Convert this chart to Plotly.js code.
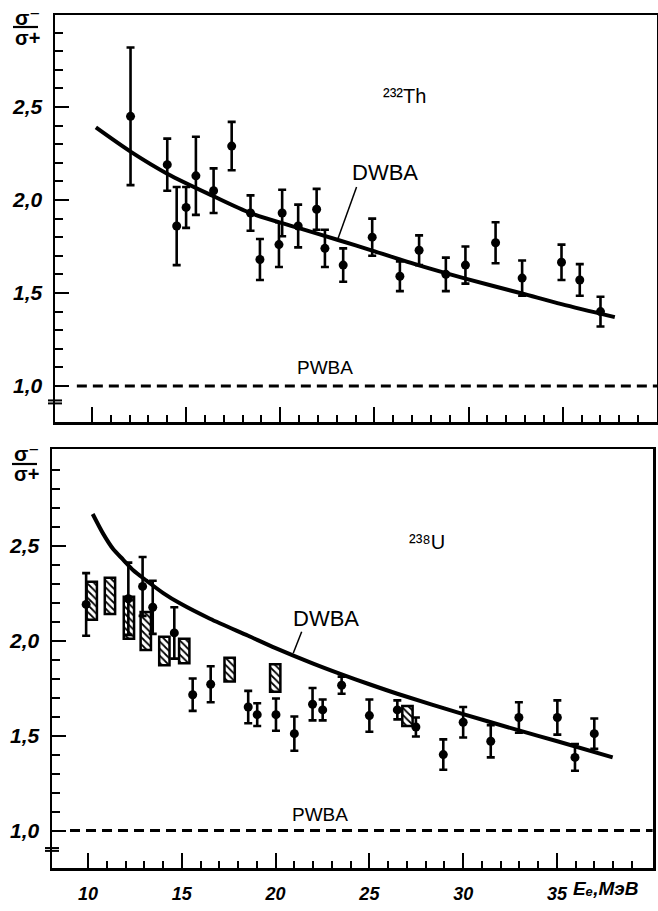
<!DOCTYPE html>
<html>
<head>
<meta charset="utf-8">
<script src="https://cdn.plot.ly/plotly-3.0.1.min.js"></script>
<style>html,body{margin:0;padding:0;background:#fff;}#chart{width:658px;height:911px;}</style>
</head>
<body>
<div id="chart"></div>
<script>
// ---- 232Th data (top panel) ----
var thE   = [12.05, 14.0, 14.5, 15.0, 15.52, 16.46, 17.42, 18.42, 18.92, 19.93, 20.1, 20.95, 21.93, 22.37, 23.34, 24.88, 26.35, 27.37, 28.79, 29.83, 31.43, 32.84, 34.93, 35.9, 37.0];
var thR   = [2.45, 2.19, 1.86, 1.96, 2.13, 2.05, 2.29, 1.93, 1.68, 1.76, 1.93, 1.86, 1.95, 1.74, 1.65, 1.80, 1.59, 1.73, 1.60, 1.65, 1.77, 1.58, 1.665, 1.57, 1.40];
var thErr = [0.37, 0.14, 0.21, 0.11, 0.21, 0.12, 0.13, 0.095, 0.11, 0.12, 0.125, 0.115, 0.11, 0.10, 0.09, 0.10, 0.08, 0.08, 0.09, 0.10, 0.11, 0.095, 0.095, 0.085, 0.08];
var thDwbaE = [10.21, 12.05, 14.02, 16.46, 18.42, 20.95, 23.07, 24.88, 27.37, 29.83, 32.84, 34.93, 37.76];
var thDwbaR = [2.39, 2.26, 2.14, 2.02, 1.93, 1.85, 1.785, 1.728, 1.648, 1.577, 1.497, 1.44, 1.37];
var thPwbaE = [9.2, 40.0];
var thPwbaR = [1.0, 1.0];

// ---- 238U data (bottom panel) ----
var uE   = [9.9, 12.15, 12.91, 13.45, 14.6, 15.58, 16.54, 18.54, 19.02, 20.02, 21.0, 21.97, 22.51, 23.52, 25.0, 26.49, 27.48, 28.94, 30.0, 31.47, 32.97, 35.02, 35.96, 36.99];
var uR   = [2.19, 2.22, 2.285, 2.175, 2.04, 1.715, 1.77, 1.65, 1.61, 1.61, 1.51, 1.665, 1.635, 1.765, 1.605, 1.635, 1.545, 1.40, 1.57, 1.47, 1.595, 1.595, 1.385, 1.51];
var uErr = [0.165, 0.19, 0.155, 0.14, 0.135, 0.085, 0.095, 0.085, 0.06, 0.085, 0.09, 0.085, 0.055, 0.045, 0.085, 0.05, 0.05, 0.08, 0.08, 0.085, 0.08, 0.09, 0.07, 0.08];
var uBoxE    = [10.2, 11.17, 12.18, 13.08, 14.07, 15.13, 17.55, 19.98, 27.03];
var uBoxLow  = [2.11, 2.14, 2.01, 1.95, 1.87, 1.88, 1.785, 1.73, 1.55];
var uBoxHigh = [2.31, 2.33, 2.23, 2.15, 2.02, 2.01, 1.91, 1.875, 1.655];
var uDwbaE = [10.25, 10.82, 11.35, 11.88, 12.41, 13.12, 14.01, 14.9, 16.5, 18.54, 20.0, 21.97, 23.52, 25.0, 26.49, 30.0, 32.97, 35.02, 37.97];
var uDwbaR = [2.666, 2.56, 2.48, 2.425, 2.37, 2.315, 2.25, 2.196, 2.115, 2.025, 1.96, 1.88, 1.822, 1.77, 1.72, 1.613, 1.527, 1.47, 1.385];
var uPwbaE = [9.04, 40.1];
var uPwbaR = [1.0, 1.0];

// ---- ticks ----
var xMajorTicks = [10, 15, 20, 25, 30, 35];
var xMajorText  = ['10', '15', '20', '25', '30', '35'];
var xMinorTicks = [11,12,13,14,16,17,18,19,21,22,23,24,26,27,28,29,31,32,33,34,36,37,38,39];
var yMajorTicks = [1.0, 1.5, 2.0, 2.5];
var yMajorText  = ['1,0', '1,5', '2,0', '2,5'];
var yMinorTicks = [1.1,1.2,1.3,1.4,1.6,1.7,1.8,1.9,2.1,2.2,2.3,2.4,2.6,2.7,2.8,2.9];

var W = 658, H = 911;
function px(p){ return p / W; }
function py(p){ return 1 - p / H; }

var BLK = '#000';
var FAM = 'Liberation Sans, Arial, DejaVu Sans, sans-serif';
var labFont = {family: FAM, size: 21, color: BLK, weight: 'bold', style: 'italic'};
var xLabFont = {family: FAM, size: 18, color: BLK, weight: 'bold', style: 'italic'};

function pointsTrace(x, y, e, xa, ya){
  return {type: 'scatter', mode: 'markers', x: x, y: y, xaxis: xa, yaxis: ya,
    marker: {color: BLK, size: 9},
    error_y: {type: 'data', array: e, visible: true, color: BLK, thickness: 2.6, width: 4},
    showlegend: false, hoverinfo: 'skip'};
}
function lineTrace(x, y, xa, ya, dash, w){
  return {type: 'scatter', mode: 'lines', x: x, y: y, xaxis: xa, yaxis: ya,
    line: {color: BLK, width: w, dash: dash, shape: dash === 'solid' ? 'spline' : 'linear', smoothing: 0.8},
    showlegend: false, hoverinfo: 'skip'};
}

var boxHeights = uBoxHigh.map(function(h, i){ return h - uBoxLow[i]; });

var traces = [
  {type: 'bar', x: uBoxE, y: boxHeights, base: uBoxLow, xaxis: 'x2', yaxis: 'y2', width: 0.55,
   marker: {color: '#fff', line: {color: BLK, width: 2.5},
            pattern: {shape: '\\', fgcolor: BLK, bgcolor: '#fff', size: 5, solidity: 0.35}},
   showlegend: false, hoverinfo: 'skip'},
  lineTrace(thPwbaE, thPwbaR, 'x', 'y', '10px,6px', 3),
  lineTrace(thDwbaE, thDwbaR, 'x', 'y', 'solid', 4),
  pointsTrace(thE, thR, thErr, 'x', 'y'),
  lineTrace(uPwbaE, uPwbaR, 'x2', 'y2', '10px,6px', 3),
  lineTrace(uDwbaE, uDwbaR, 'x2', 'y2', 'solid', 4),
  pointsTrace(uE, uR, uErr, 'x2', 'y2')
];

function xAxis(domain, range, anchor, showLabels){
  return {domain: domain, range: range, anchor: anchor, showgrid: false, zeroline: false,
    showline: true, linecolor: BLK, linewidth: 2.5, mirror: true,
    tickmode: 'array', tickvals: xMajorTicks, ticktext: xMajorText, showticklabels: showLabels,
    ticks: 'inside', ticklen: 15, tickwidth: 2, tickcolor: BLK, tickfont: xLabFont, ticklabelstandoff: 8,
    minor: {tickmode: 'array', tickvals: xMinorTicks, ticks: 'inside', ticklen: 7, tickwidth: 2, tickcolor: BLK, showgrid: false}};
}
function yAxis(domain, range, anchor){
  return {domain: domain, range: range, anchor: anchor, showgrid: false, zeroline: false,
    showline: true, linecolor: BLK, linewidth: 2.5, mirror: true,
    tickmode: 'array', tickvals: yMajorTicks, ticktext: yMajorText,
    ticks: 'inside', ticklen: 14, tickwidth: 2, tickcolor: BLK, tickfont: labFont, ticklabelstandoff: 6,
    minor: {tickmode: 'array', tickvals: yMinorTicks, ticks: 'inside', ticklen: 8, tickwidth: 2, tickcolor: BLK, showgrid: false}};
}
function yRight(range, over, anchor){
  return {overlaying: over, anchor: anchor, side: 'right', range: range, showgrid: false, zeroline: false,
    showline: false, tickmode: 'array', tickvals: yMajorTicks, showticklabels: false,
    ticks: 'inside', ticklen: 10, tickwidth: 2, tickcolor: BLK};
}

var topY = [0.806, 2.995], botY = [0.803, 3.008];
var topX = [8.04, 40.0], botX = [8.08, 40.12];

function ann(text, x, y, xref, yref, font, extra){
  var a = {text: text, x: x, y: y, xref: xref, yref: yref, showarrow: false,
    font: Object.assign({family: FAM, color: BLK}, font), xanchor: 'center', yanchor: 'middle'};
  return Object.assign(a, extra || {});
}
var bi = {weight: 'bold', style: 'italic'};

var layout = {
  width: W, height: H, margin: {l: 0, r: 0, t: 0, b: 0},
  paper_bgcolor: '#fff', plot_bgcolor: '#fff', showlegend: false, barmode: 'overlay',
  xaxis:  xAxis([px(55), px(657)], topX, 'y', false),
  yaxis:  yAxis([py(422), py(15)], topY, 'x'),
  xaxis2: xAxis([px(52), px(653)], botX, 'y2', true),
  yaxis2: yAxis([py(868), py(449)], botY, 'x2'),
  yaxis3: yRight(topY, 'y', 'x'),
  yaxis4: yRight(botY, 'y2', 'x2'),
  annotations: [
    ann('DWBA', 25.55, 2.15, 'x', 'y', {size: 22}),
    ann('PWBA', 22.37, 1.10, 'x', 'y', {size: 19}),
    ann('²³²Th', 25.35, 2.56, 'x', 'y', {size: 20}, {xanchor: 'left'}),
    ann('DWBA', 22.69, 2.118, 'x2', 'y2', {size: 22}),
    ann('PWBA', 22.37, 1.082, 'x2', 'y2', {size: 19}),
    ann('²³⁸U', 27.0, 2.52, 'x2', 'y2', {size: 20}, {xanchor: 'left'}),
    ann('Eₑ,МэВ', px(571), py(888), 'paper', 'paper', Object.assign({size: 19}, bi), {xanchor: 'left'}),
    ann('σ⁻', px(27), py(17), 'paper', 'paper', {size: 21, weight: 'bold'}),
    ann('σ+', px(27), py(38), 'paper', 'paper', {size: 20, weight: 'bold'}),
    ann('σ⁻', px(26), py(453), 'paper', 'paper', {size: 21, weight: 'bold'}),
    ann('σ+', px(26), py(474), 'paper', 'paper', {size: 20, weight: 'bold'})
  ],
  shapes: [
    // fraction bars of the axis titles
    {type: 'line', xref: 'paper', yref: 'paper', x0: px(13), x1: px(38), y0: py(27), y1: py(27), line: {color: BLK, width: 2.2}},
    {type: 'line', xref: 'paper', yref: 'paper', x0: px(12), x1: px(37), y0: py(464), y1: py(464), line: {color: BLK, width: 2.2}},
    // DWBA pointers
    {type: 'line', xref: 'x', yref: 'y', x0: 24.05, y0: 2.07, x1: 23.07, y1: 1.794, line: {color: BLK, width: 1.5}},
    {type: 'line', xref: 'x2', yref: 'y2', x0: 21.39, y0: 2.046, x1: 20.94, y1: 1.933, line: {color: BLK, width: 1.5}},
    // axis break marks
    {type: 'line', xref: 'paper', yref: 'y', x0: px(48), x1: px(62), y0: 0.922, y1: 0.922, line: {color: BLK, width: 2}},
    {type: 'line', xref: 'paper', yref: 'y', x0: px(48), x1: px(62), y0: 0.906, y1: 0.906, line: {color: BLK, width: 2}},
    {type: 'line', xref: 'paper', yref: 'y2', x0: px(45), x1: px(59), y0: 0.908, y1: 0.908, line: {color: BLK, width: 2}},
    {type: 'line', xref: 'paper', yref: 'y2', x0: px(45), x1: px(59), y0: 0.893, y1: 0.893, line: {color: BLK, width: 2}}
  ]
};

Plotly.newPlot('chart', traces, layout, {staticPlot: true, displayModeBar: false});
</script>
</body>
</html>
